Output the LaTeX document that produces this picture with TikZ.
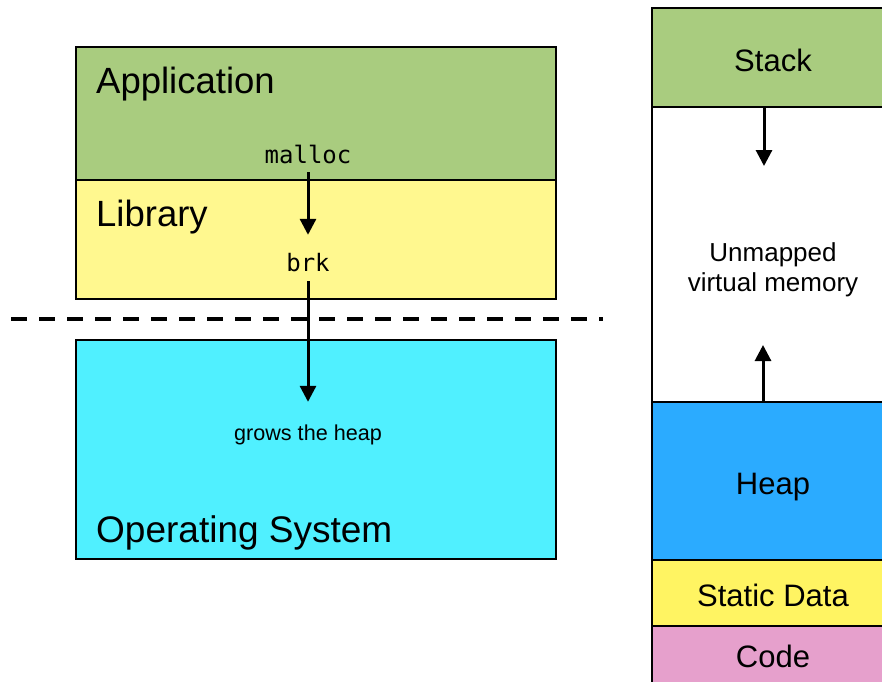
\documentclass[tikz,border=0pt]{standalone}
\usepackage{fontspec}
\setmainfont{Liberation Sans}
\setmonofont{DejaVu Sans Mono}
\usetikzlibrary{arrows.meta}

\definecolor{appgreen}{HTML}{A9CC7F}
\definecolor{libyellow}{HTML}{FFF88F}
\definecolor{oscyan}{HTML}{50F0FF}
\definecolor{heapblue}{HTML}{2BABFF}
\definecolor{datayellow}{HTML}{FFF462}
\definecolor{codepink}{HTML}{E6A0CC}

\tikzset{
  layer/.style={draw=black, line width=2.5pt, rectangle, inner sep=0pt, outer sep=0pt},
  bigtxt/.style={font=\fontsize{36.5pt}{40pt}\selectfont, inner sep=0pt, anchor=base west},
  segtxt/.style={font=\fontsize{31pt}{36pt}\selectfont, inner sep=0pt, anchor=base},
  calltxt/.style={font=\ttfamily\fontsize{24pt}{28pt}\selectfont, inner sep=0pt, anchor=base,
    text height=18pt, text depth=5pt},
  smalltxt/.style={font=\fontsize{21.6pt}{26pt}\selectfont, inner sep=0pt, anchor=base,
    text height=16pt, text depth=5pt},
  arr/.style={line width=3pt, -{Triangle[length=16pt, width=16pt]}},
}

\begin{document}
\begin{tikzpicture}[x=1pt, y=-1pt]
\useasboundingbox (0,0) rectangle (882,681);
\clip (0,0) rectangle (882,681);

% software layers
\node[layer, fill=appgreen, minimum width=480pt, minimum height=133pt, anchor=north west] (app) at (76,47) {};
\node[layer, fill=libyellow, minimum width=480pt, minimum height=119pt, anchor=north west] (lib) at (76,180) {};
\node[layer, fill=oscyan, minimum width=480pt, minimum height=219pt, anchor=north west] (os) at (76,340) {};

\node[bigtxt] (apptxt) at (96,93) {Application};
\node[bigtxt] (libtxt) at (96,226) {Library};
\node[bigtxt, font=\fontsize{37pt}{40pt}\selectfont] (ostxt) at (96,542) {Operating System};

\node[calltxt] (malloc) at (308,163) {malloc};
\node[calltxt] (brk) at (308,271) {brk};
\node[smalltxt] (grow) at (308,440) {grows the heap};

% user / kernel boundary
\draw[line width=4pt, dash pattern=on 16pt off 12pt] (11,319) -- (603,319);

\draw[arr, shorten <=4pt, shorten >=18pt] (malloc.south) -- (brk.north);
\draw[arr, shorten <=5pt, shorten >=22pt] (brk.south) -- (grow.north);

% address space
\node[layer, fill=appgreen, minimum width=242pt, minimum height=99pt, anchor=north west] (stack) at (652,8) {};
\node[layer, fill=white, minimum width=242pt, minimum height=295pt, anchor=north west] (unmapped) at (652,107) {};
\node[layer, fill=heapblue, minimum width=242pt, minimum height=158pt, anchor=north west] (heap) at (652,402) {};
\node[layer, fill=datayellow, minimum width=242pt, minimum height=66pt, anchor=north west] (static) at (652,560) {};
\node[layer, fill=codepink, minimum width=242pt, minimum height=80pt, anchor=north west] (code) at (652,626) {};

\node[segtxt] (stacktxt) at (773,71) {Stack};
\node[segtxt, font=\fontsize{26pt}{30pt}\selectfont] (unm1) at (773,261) {Unmapped};
\node[segtxt, font=\fontsize{26pt}{30pt}\selectfont] (unm2) at (773,291) {virtual memory};
\node[segtxt] (heaptxt) at (773,494) {Heap};
\node[segtxt] (statictxt) at (773,606) {Static Data};
\node[segtxt] (codetxt) at (773,667) {Code};

\coordinate (stackgrow) at (764,166);
\coordinate (heapgrow) at (763,345);
\draw[arr] (stack.south -| stackgrow) -- (stackgrow);
\draw[arr] (heap.north -| heapgrow) -- (heapgrow);
\end{tikzpicture}
\end{document}
